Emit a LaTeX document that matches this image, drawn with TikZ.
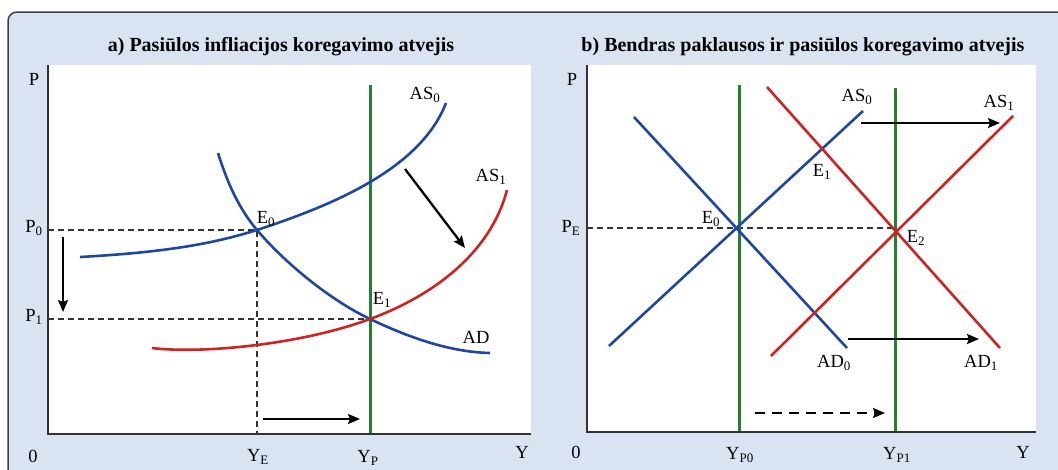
\documentclass[tikz,border=0pt]{standalone}
\usepackage{fontspec}
\setmainfont{Liberation Serif}
\usetikzlibrary{arrows.meta}
\definecolor{fonas}{RGB}{218,227,241}
\definecolor{mel}{RGB}{30,72,158}
\definecolor{raud}{RGB}{205,35,35}
\definecolor{zal}{RGB}{36,128,46}

\begin{document}
\begin{tikzpicture}[x=1pt, y=-1pt,
		axis/.style={draw=black!80, line width=1.6pt},
		bluecurve/.style={draw=mel, line width=2.6pt},
		redcurve/.style={draw=raud, line width=2.6pt},
		potential/.style={draw=zal, line width=3pt},
		guide/.style={draw=black!80, line width=1.3pt, dash pattern=on 6pt off 4pt},
		movearrow/.style={draw=black, line width=2.3pt, -{Stealth[length=12pt,width=10pt,inset=2pt]}},
		lbl/.style={font=\fontsize{18.5}{20}\selectfont, inner sep=1pt},
		title/.style={font=\fontsize{20}{22}\selectfont\bfseries}
		]
		
		\useasboundingbox (0,0) rectangle (1058,469);
		\clip (0,0) rectangle (1058,469);
		\draw[fill=fonas, draw=black!75, line width=1.5pt, rounded corners=9pt] (8,12) rectangle (1080,490);
		\fill[white] (48,65) rectangle (531,434);   % a) plotas
		\fill[white] (587,65) rectangle (1036,432); % b) plotas
		
		\node[title] (titleA) at (281,47) {a) Pasiūlos infliacijos koregavimo atvejis};
		\node[title] (titleB) at (803,47) {b) Bendras paklausos ir pasiūlos koregavimo atvejis};
		
		% a) dalis
		\coordinate (Oa) at (48,434);
		\coordinate (E0a) at (257,230);
		\coordinate (E1a) at (370,319);
		\coordinate (YPtop) at (370,85);
		\draw[guide] (E0a -| Oa) -- (E0a) -- (E0a |- Oa);
		\draw[guide] (E1a -| Oa) -- (E1a);
		\draw[potential] (YPtop) -- (YPtop |- Oa);
		\draw[bluecurve] (80,257) .. controls (170,252) and (215,243) .. (E0a)
			.. controls (330,206) and (420,170) .. (446,103);   % AS0
		\draw[bluecurve] (218,153) .. controls (228,185) and (240,210) .. (E0a)
			.. controls (285,263) and (330,300) .. (E1a)
			.. controls (410,338) and (450,352) .. (490,353);   % AD
		\draw[redcurve] (152,348) .. controls (200,354) and (300,345) .. (E1a)
			.. controls (430,297) and (490,255) .. (507,190);   % AS1
		\draw[axis] (48,65) -- (Oa) -- (531,434);
		
		\coordinate (arrA1) at (405,169);
		\coordinate (arrA2) at (465,248);
		\draw[movearrow] (arrA1) -- (arrA2);
		\coordinate (arrP1) at (63,237);
		\coordinate (arrP2) at (63,312);
		\draw[movearrow] (arrP1) -- (arrP2);
		\coordinate (arrY1) at (263,419);
		\coordinate (arrY2) at (360,419);
		\draw[movearrow] (arrY1) -- (arrY2);
		
		\node[lbl] (Pa) at (34,79) {P};
		\node[lbl] (P0) at (34,228) {P\textsubscript{0}};
		\node[lbl] (P1) at (34,317) {P\textsubscript{1}};
		\node[lbl] (zeroA) at (33,456) {0};
		\node[lbl] (YE) at (258,457) {Y\textsubscript{E}};
		\node[lbl] (YP) at (368,458) {Y\textsubscript{P}};
		\node[lbl] (Ya) at (522,452) {Y};
		\node[lbl] (E0la) at (266,219) {E\textsubscript{0}};
		\node[lbl] (E1la) at (382,300) {E\textsubscript{1}};
		\node[lbl] (AS0a) at (425,95) {AS\textsubscript{0}};
		\node[lbl] (AS1a) at (491,177) {AS\textsubscript{1}};
		\node[lbl] (ADa) at (476,337) {AD};
		
		% b) dalis
		\coordinate (Ob) at (587,432);
		\coordinate (E0b) at (739,228);
		\coordinate (E2b) at (895,228);
		\coordinate (YP0top) at (739,85);
		\coordinate (YP1top) at (895,88);
		\draw[guide] (E0b -| Ob) -- (E2b);
		\draw[potential] (YP0top) -- (YP0top |- Ob);
		\draw[potential] (YP1top) -- (YP1top |- Ob);
		\coordinate (AD0s) at (634,117);
		\coordinate (AD0e) at (847,348);
		\coordinate (AS0s) at (609,346);
		\coordinate (AS0e) at (863,111);
		\coordinate (AD1s) at (767,87);
		\coordinate (AD1e) at (1000,348);
		\coordinate (AS1s) at (771,356);
		\coordinate (AS1e) at (1013,116);
		\draw[bluecurve] (AD0s) -- (AD0e);
		\draw[bluecurve] (AS0s) -- (AS0e);
		\draw[redcurve] (AD1s) -- (AD1e);
		\draw[redcurve] (AS1s) -- (AS1e);
		\draw[axis] (587,65) -- (Ob) -- (1036,432);
		
		\coordinate (arrS1) at (861,123);
		\coordinate (arrS2) at (1000,123);
		\draw[movearrow] (arrS1) -- (arrS2);
		\coordinate (arrD1) at (848,339);
		\coordinate (arrD2) at (979,339);
		\draw[movearrow] (arrD1) -- (arrD2);
		\coordinate (arrQ1) at (755,413);
		\coordinate (arrQ2) at (885,413);
		\draw[movearrow, dash pattern=on 10pt off 7pt] (arrQ1) -- (arrQ2);
		
		\node[lbl] (Pb) at (572,79) {P};
		\node[lbl] (PE) at (571,228) {P\textsubscript{E}};
		\node[lbl] (zeroB) at (576,452) {0};
		\node[lbl] (YP0) at (740,455) {Y\textsubscript{P0}};
		\node[lbl] (YP1) at (897,455) {Y\textsubscript{P1}};
		\node[lbl] (Yb) at (1023,452) {Y};
		\node[lbl] (E0lb) at (711,219) {E\textsubscript{0}};
		\node[lbl] (E1lb) at (822,172) {E\textsubscript{1}};
		\node[lbl] (E2lb) at (916,238) {E\textsubscript{2}};
		\node[lbl] (AS0b) at (857,97) {AS\textsubscript{0}};
		\node[lbl] (AS1b) at (999,103) {AS\textsubscript{1}};
		\node[lbl] (AD0b) at (834,363) {AD\textsubscript{0}};
		\node[lbl] (AD1b) at (981,363) {AD\textsubscript{1}};
	\end{tikzpicture}
\end{document}
